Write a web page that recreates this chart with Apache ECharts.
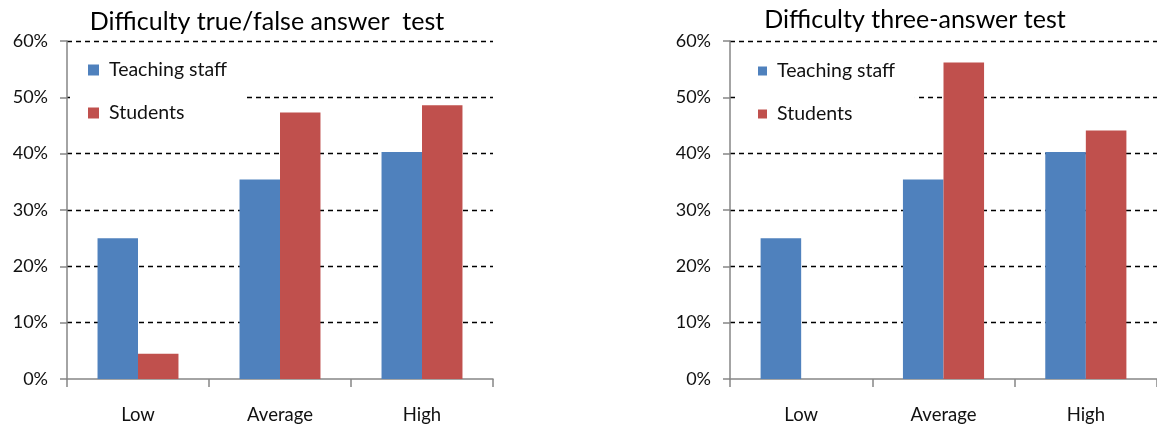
<!DOCTYPE html>
<html>
<head>
<meta charset="utf-8">
<script src="https://cdn.jsdelivr.net/npm/echarts@6/dist/echarts.min.js"></script>
<style>
  html, body { margin: 0; padding: 0; background: #fff; }
  #chart { width: 1157px; height: 428px; }
</style>
</head>
<body>
<div id="chart"></div>
<script>
// Difficulty ratings by answer format (percent of respondents)
const categories = ['Low', 'Average', 'High'];
const seriesNames = ['Teaching staff', 'Students'];
const titles = ['Difficulty true/false answer  test', 'Difficulty three-answer test'];

const trueFalseStaff = [25.0, 35.4, 40.3];
const trueFalseStudents = [4.5, 47.3, 48.6];
const threeAnswerStaff = [25.0, 35.4, 40.3];
const threeAnswerStudents = [0, 56.2, 44.1];

const yTicks = { min: 0, max: 60, interval: 10 };

const FONT = 'Lato';
const BLUE = '#4F81BD';
const RED = '#C0504D';
const TEXT = '#111';

const grids = [
  { left: 67, top: 41, width: 426, height: 338 },
  { left: 730, top: 41, width: 427, height: 338 }
];

function xAxis(i) {
  return {
    type: 'category', gridIndex: i, data: categories,
    axisLine: { lineStyle: { color: '#868686', width: 1.5 } },
    axisTick: { show: true, length: 8, alignWithLabel: false, lineStyle: { color: '#868686', width: 1.5 } },
    axisLabel: { color: TEXT, fontFamily: FONT, fontSize: 18.5, margin: 27 },
    splitLine: { show: false }
  };
}

function yAxis(i) {
  return {
    type: 'value', gridIndex: i, min: yTicks.min, max: yTicks.max, interval: yTicks.interval,
    axisLine: { show: true, lineStyle: { color: '#868686', width: 1.5 } },
    axisTick: { show: true, length: 7, lineStyle: { color: '#868686', width: 1.5 } },
    axisLabel: { color: TEXT, fontFamily: FONT, fontSize: 18, margin: 19, formatter: '{value}%' },
    splitLine: { show: true, showMinLine: false, lineStyle: { color: '#000', width: 1.3, type: [5, 4] } }
  };
}

function bars(name, data, i, color) {
  return {
    name: name, type: 'bar', xAxisIndex: i, yAxisIndex: i, data: data,
    barGap: '0%', barCategoryGap: '43%',
    itemStyle: { color: color },
    emphasis: { disabled: true }
  };
}

function legend(left, iconSize, padding) {
  return {
    orient: 'vertical', left: left, top: 48, itemGap: 23,
    itemWidth: iconSize, itemHeight: iconSize, icon: 'rect',
    backgroundColor: '#fff', padding: padding, selectedMode: false,
    data: seriesNames.map(n => ({ name: n })),
    textStyle: { fontFamily: FONT, fontSize: 19.5, color: TEXT, padding: [0, 0, 0, 5] },
    z: 5
  };
}

const chart = echarts.init(document.getElementById('chart'), null, { renderer: 'canvas' });
chart.setOption({
  animation: false,
  backgroundColor: '#fff',
  title: [
    { text: titles[0], left: 262, top: 4, textAlign: 'center',
      textStyle: { fontFamily: FONT, fontSize: 25, fontWeight: 'normal', color: '#000' } },
    { text: titles[1], left: 910, top: 2, textAlign: 'center',
      textStyle: { fontFamily: FONT, fontSize: 25, fontWeight: 'normal', color: '#000' } }
  ],
  legend: [
    legend(70, 11, [12, 19, 10, 18]),
    legend(735, 9, [13, 20, 10, 23])
  ],
  grid: grids,
  xAxis: [xAxis(0), xAxis(1)],
  yAxis: [yAxis(0), yAxis(1)],
  series: [
    bars(seriesNames[0], trueFalseStaff, 0, BLUE),
    bars(seriesNames[1], trueFalseStudents, 0, RED),
    bars(seriesNames[0], threeAnswerStaff, 1, BLUE),
    bars(seriesNames[1], threeAnswerStudents, 1, RED)
  ]
});
</script>
</body>
</html>
